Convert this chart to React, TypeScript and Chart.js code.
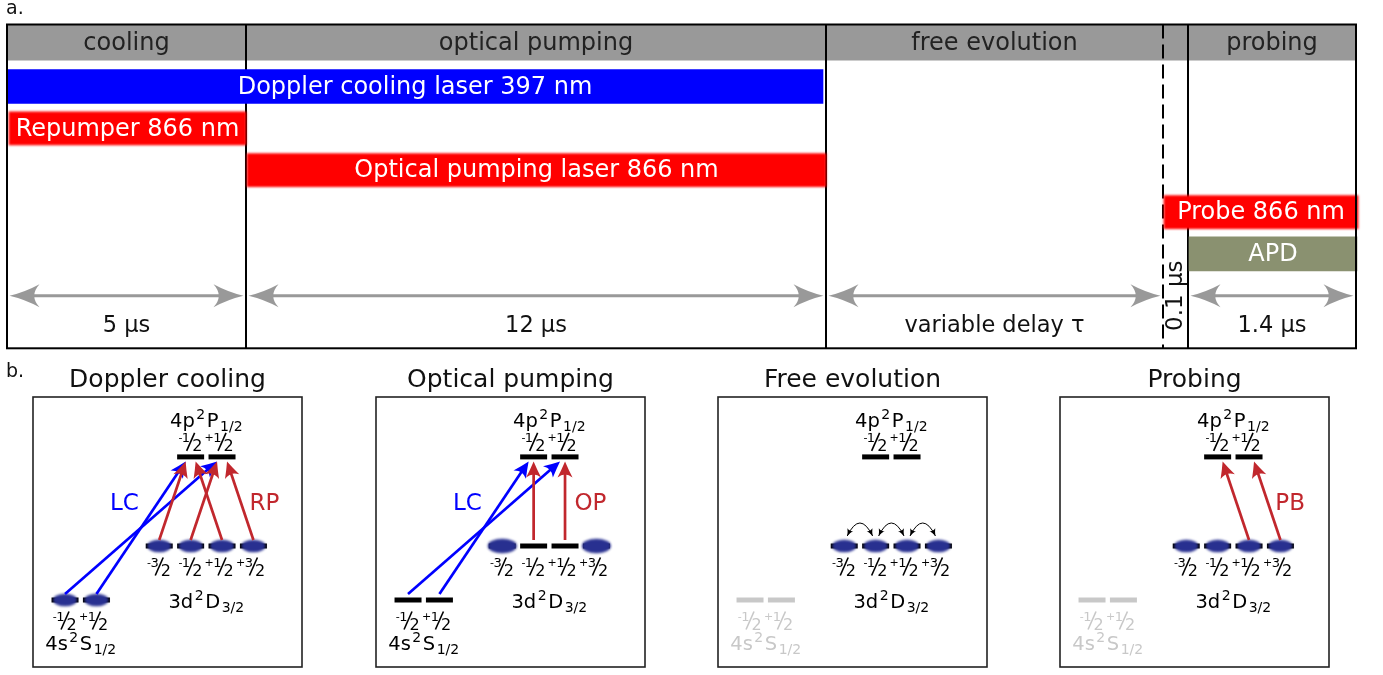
import React, { useEffect, useRef } from 'react';
import { Chart, registerables } from 'chart.js';

Chart.register(...registerables);

const FONT = '"DejaVu Sans", "Liberation Sans", sans-serif';
const GREY_LEVEL = '#c8c8c8';

// ---------- a. timing sequence (schematic time axis, not to scale) ----------
const phaseNames = ['cooling', 'optical pumping', 'free evolution', 'probing'];
const phaseStart = [0, 239, 819, 1181];
const phaseEnd = [239, 819, 1156, 1349];
const phaseDurations = ['5 μs', '12 μs', 'variable delay τ', '1.4 μs'];
const delayStart = 1156;
const delayEnd = 1181;
const delayLabel = '0.1 μs';
const sequenceEnd = 1349;

const pulseNames = ['Doppler cooling laser 397 nm', 'Repumper 866 nm', 'Optical pumping laser 866 nm', 'Probe 866 nm', 'APD'];
const pulseStart = [0, 2, 240, 1157, 1182];
const pulseEnd = [816, 239, 819, 1351, 1350];
const pulseRow = [1, 2, 3, 4, 5];
const pulseColors = ['#0000ff', '#ff0000', '#ff0000', '#ff0000', '#8a9170'];
const pulseSoftEdge = [false, true, true, true, false];

const headerRow = -0.05;
const durationArrowRow = 6;
const durationLabelRow = 6.72;

// ---------- b. level schemes of 40Ca+ (schematic energies) ----------
const panelTitles = ['Doppler cooling', 'Optical pumping', 'Free evolution', 'Probing'];
const manifoldEnergy = [0, 1, 2.65]; // S1/2, D3/2, P1/2
const manifoldOffset = [1.5, 5.5, 5.5];
const manifoldSublevels = [[-0.5, 0.5], [-1.5, -0.5, 0.5, 1.5], [-0.5, 0.5]];
const manifoldTerm = [['4s', '2', 'S', '1/2'], ['3d', '2', 'D', '3/2'], ['4p', '2', 'P', '1/2']];
// population marker per sublevel: 0 none, 1 normal, 2 enhanced
const populationS = [[1, 1], [0, 0], [0, 0], [0, 0]];
const populationD = [[1, 1, 1, 1], [2, 0, 0, 2], [1, 1, 1, 1], [1, 1, 1, 1]];
const groundActive = [true, true, false, false];

const beamNames = ['LC', 'RP', 'OP', 'PB'];
const beamColors = ['#0000ff', '#c1272d', '#c1272d', '#c1272d'];
// [fromManifold, fromM, toManifold, toM]
const beamTransitions = [
  [[0, -0.5, 2, 0.5], [0, 0.5, 2, -0.5]],
  [[1, -1.5, 2, -0.5], [1, -0.5, 2, 0.5], [1, 0.5, 2, -0.5], [1, 1.5, 2, 0.5]],
  [[1, -0.5, 2, -0.5], [1, 0.5, 2, 0.5]],
  [[1, 0.5, 2, -0.5], [1, 1.5, 2, 0.5]],
];
const beamLabelX = [2.89, 7.35, 6.81, 7.31];
const beamLabelY = [1.78, 1.78, 1.78, 1.78];
const panelBeams = [[0, 1], [0, 2], [], [3]];
const coherencePairs = [[], [], [[-1.5, -0.5], [-0.5, 0.5], [0.5, 1.5]], []];

// ---------- layout ----------
const PANEL_LEFT = [33, 376, 718, 1060];
const PANEL_W = 269;
const PANEL_TOP = 397;
const PANEL_H = 270;
const PANEL_CANVAS_TOP = 355;
const PANEL_CANVAS_H = 318;

function stealthHead(ctx: any, x: number, y: number, ang: number, len: number, hw: number, color: string, bow = 0.3) {
  ctx.save();
  ctx.translate(x, y);
  ctx.rotate(ang);
  ctx.beginPath();
  ctx.moveTo(0, 0);
  ctx.quadraticCurveTo(-len * 0.5, -hw * bow, -len, -hw);
  ctx.quadraticCurveTo(-len * 0.65, 0, -len, hw);
  ctx.quadraticCurveTo(-len * 0.5, hw * bow, 0, 0);
  ctx.closePath();
  ctx.fillStyle = color;
  ctx.fill();
  ctx.restore();
}

function drawArrow(ctx: any, x0: number, y0: number, x1: number, y1: number, color: string, lw: number, len: number, hw: number) {
  const ang = Math.atan2(y1 - y0, x1 - x0);
  const bx = x1 - Math.cos(ang) * len * 0.75;
  const by = y1 - Math.sin(ang) * len * 0.75;
  ctx.strokeStyle = color;
  ctx.lineWidth = lw;
  ctx.lineCap = 'butt';
  ctx.beginPath();
  ctx.moveTo(x0, y0);
  ctx.lineTo(bx, by);
  ctx.stroke();
  stealthHead(ctx, x1, y1, ang, len, hw, color, 0.45);
}

function drawFraction(ctx: any, cx: number, cy: number, m: number, color: string) {
  const sign = m < 0 ? '-' : '+';
  const num = String(Math.round(Math.abs(m * 2)));
  ctx.fillStyle = color;
  ctx.strokeStyle = color;
  ctx.textBaseline = 'alphabetic';
  ctx.textAlign = 'right';
  ctx.font = `13px ${FONT}`;
  const wNum = ctx.measureText(num).width;
  ctx.fillText(num, cx - 0.5, cy + 0.5);
  ctx.font = `11px ${FONT}`;
  ctx.fillText(sign, cx - 0.5 - wNum + 0.5, cy - 1);
  ctx.lineWidth = 1.6;
  ctx.beginPath();
  ctx.moveTo(cx - 4, cy + 9);
  ctx.lineTo(cx + 4, cy - 9);
  ctx.stroke();
  ctx.font = `16px ${FONT}`;
  ctx.textAlign = 'left';
  ctx.fillText('2', cx + 1.5, cy + 9);
}

function drawTerm(ctx: any, cx: number, baseline: number, parts: string[], color: string) {
  const [pre, sup, letter, sub] = parts;
  const big = `19.5px ${FONT}`;
  const small = `14px ${FONT}`;
  ctx.font = big;
  const wPre = ctx.measureText(pre).width;
  const wL = ctx.measureText(letter).width;
  ctx.font = small;
  const wSup = ctx.measureText(sup).width;
  const wSub = ctx.measureText(sub).width;
  const gap = 1.5;
  const total = wPre + wSup + wL + wSub + 3 * gap;
  let x = cx - total / 2;
  ctx.fillStyle = color;
  ctx.textAlign = 'left';
  ctx.textBaseline = 'alphabetic';
  ctx.font = big;
  ctx.fillText(pre, x, baseline);
  x += wPre + gap;
  ctx.font = small;
  ctx.fillText(sup, x, baseline - 8);
  x += wSup + gap;
  ctx.font = big;
  ctx.fillText(letter, x, baseline);
  x += wL + gap;
  ctx.font = small;
  ctx.fillText(sub, x, baseline + 4);
}

function makeBlob(rx: number, ry: number) {
  const c = document.createElement('canvas');
  const pad = 4;
  c.width = Math.ceil(2 * (rx + pad));
  c.height = Math.ceil(2 * (ry + pad));
  const g = c.getContext('2d') as CanvasRenderingContext2D;
  g.filter = 'blur(1.2px)';
  g.fillStyle = '#283090';
  g.beginPath();
  g.ellipse(c.width / 2, c.height / 2, rx, ry, 0, 0, Math.PI * 2);
  g.fill();
  return c;
}

// ---------- part a chart ----------
const sequencePlugin = {
  id: 'sequenceDeco',
  beforeDatasetDraw(chart: any, args: any) {
    const ds = chart.data.datasets[args.index];
    if (ds.label === 'soft pulses') chart.ctx.filter = 'blur(0.9px)';
  },
  afterDatasetDraw(chart: any, args: any) {
    const ds = chart.data.datasets[args.index];
    const ctx = chart.ctx;
    if (ds.label === 'soft pulses') ctx.filter = 'none';
    if (ds.label === 'phases') {
      const a = chart.chartArea;
      const xs = chart.scales.x;
      ctx.save();
      ctx.strokeStyle = '#000';
      ctx.lineWidth = 2;
      [phaseEnd[0], phaseEnd[1], delayEnd].forEach((v) => {
        const px = xs.getPixelForValue(v);
        ctx.beginPath();
        ctx.moveTo(px, a.top);
        ctx.lineTo(px, a.bottom);
        ctx.stroke();
      });
      ctx.setLineDash([14, 6]);
      const dx = xs.getPixelForValue(delayStart);
      ctx.beginPath();
      ctx.moveTo(dx, a.top);
      ctx.lineTo(dx, a.bottom);
      ctx.stroke();
      ctx.setLineDash([]);
      const ys = chart.scales.y;
      ctx.fillStyle = '#222';
      ctx.font = `24px ${FONT}`;
      ctx.textAlign = 'center';
      ctx.textBaseline = 'middle';
      phaseNames.forEach((n, i) => {
        ctx.fillText(n, xs.getPixelForValue((phaseStart[i] + phaseEnd[i]) / 2), ys.getPixelForValue(headerRow) + 1);
      });
      ctx.restore();
    }
  },
  afterDatasetsDraw(chart: any) {
    const ctx = chart.ctx;
    const a = chart.chartArea;
    const xs = chart.scales.x;
    const ys = chart.scales.y;
    ctx.save();
    // pulse labels
    ctx.fillStyle = '#fff';
    ctx.font = `24px ${FONT}`;
    ctx.textAlign = 'center';
    ctx.textBaseline = 'middle';
    pulseNames.forEach((n, i) => {
      ctx.fillText(n, xs.getPixelForValue((pulseStart[i] + pulseEnd[i]) / 2), ys.getPixelForValue(pulseRow[i]) + 1);
    });
    // duration arrows
    const ay = ys.getPixelForValue(durationArrowRow);
    phaseNames.forEach((_, i) => {
      const x0 = xs.getPixelForValue(phaseStart[i] + 2.5);
      const x1 = xs.getPixelForValue(phaseEnd[i] - 2.5);
      ctx.strokeStyle = '#999999';
      ctx.lineWidth = 3;
      ctx.beginPath();
      ctx.moveTo(x0 + 22, ay);
      ctx.lineTo(x1 - 22, ay);
      ctx.stroke();
      stealthHead(ctx, x1, ay, 0, 30, 11.5, '#999999');
      stealthHead(ctx, x0, ay, Math.PI, 30, 11.5, '#999999');
    });
    // duration labels
    ctx.fillStyle = '#111';
    ctx.font = `22.5px ${FONT}`;
    phaseDurations.forEach((d, i) => {
      ctx.fillText(d, xs.getPixelForValue((phaseStart[i] + phaseEnd[i]) / 2), ys.getPixelForValue(durationLabelRow));
    });
    // 0.1 us label (rotated)
    ctx.save();
    ctx.translate(xs.getPixelForValue((delayStart + delayEnd) / 2) + 1, ys.getPixelForValue(durationArrowRow));
    ctx.rotate(-Math.PI / 2);
    ctx.font = `23px ${FONT}`;
    ctx.fillText(delayLabel, 0, 0);
    ctx.restore();
    // frame
    ctx.strokeStyle = '#000';
    ctx.lineWidth = 2;
    ctx.strokeRect(a.left, a.top, a.right - a.left, a.bottom - a.top);
    // panel letters
    ctx.fillStyle = '#111';
    ctx.font = `19px ${FONT}`;
    ctx.textAlign = 'left';
    ctx.textBaseline = 'alphabetic';
    ctx.fillText('a.', 6, 13.5);
    ctx.fillText('b.', 6, 377);
    ctx.restore();
  },
};

function sequenceConfig(): any {
  const sharpIdx = pulseNames.map((_, i) => i).filter((i) => !pulseSoftEdge[i]);
  const softIdx = pulseNames.map((_, i) => i).filter((i) => pulseSoftEdge[i]);
  const barCommon = {
    grouped: false,
    categoryPercentage: 1,
    barPercentage: 1,
    borderWidth: 0,
    clip: false,
  };
  return {
    type: 'bar',
    data: {
      datasets: [
        {
          ...barCommon,
          label: 'sharp pulses',
          data: sharpIdx.map((i) => ({ x: [pulseStart[i], pulseEnd[i]], y: pulseRow[i] })),
          backgroundColor: sharpIdx.map((i) => pulseColors[i]),
          maxBarThickness: 34,
        },
        {
          ...barCommon,
          label: 'soft pulses',
          data: softIdx.map((i) => ({ x: [pulseStart[i], pulseEnd[i]], y: pulseRow[i] })),
          backgroundColor: softIdx.map((i) => pulseColors[i]),
          maxBarThickness: 33,
        },
        {
          ...barCommon,
          label: 'phases',
          data: [{ x: [0, sequenceEnd], y: headerRow }],
          backgroundColor: '#999999',
          maxBarThickness: 35,
        },
      ],
    },
    options: {
      indexAxis: 'y',
      animation: false,
      responsive: false,
      maintainAspectRatio: false,
      devicePixelRatio: 1,
      events: [],
      layout: { autoPadding: false, padding: { left: 7, right: 1383 - 1356, top: 24.5, bottom: 675 - 348.3 } },
      plugins: { legend: { display: false }, tooltip: { enabled: false } },
      scales: {
        x: { type: 'linear', min: 0, max: sequenceEnd, display: false, offset: false },
        y: {
          type: 'linear',
          reverse: true,
          min: 1 + (24.5 - 86.5) / 41.85,
          max: 1 + (348.3 - 86.5) / 41.85,
          display: false,
          offset: false,
          ticks: { stepSize: 1, includeBounds: false },
        },
      },
    },
    plugins: [sequencePlugin],
  };
}

// ---------- part b charts ----------
function makePanelPlugin(p: number) {
  return {
    id: 'panelDeco' + p,
    afterDatasetsDraw(chart: any) {
      const ctx = chart.ctx;
      const a = chart.chartArea;
      const xs = chart.scales.x;
      const ys = chart.scales.y;
      const X = (v: number) => xs.getPixelForValue(v);
      const Y = (v: number) => ys.getPixelForValue(v);
      ctx.save();
      // frame
      ctx.strokeStyle = '#222';
      ctx.lineWidth = 1.6;
      ctx.strokeRect(a.left, a.top, a.right - a.left, a.bottom - a.top);
      // title
      ctx.fillStyle = '#111';
      ctx.font = `25px ${FONT}`;
      ctx.textAlign = 'center';
      ctx.textBaseline = 'alphabetic';
      ctx.fillText(panelTitles[p], (a.left + a.right) / 2, a.top - 10);
      // term + sublevel labels
      manifoldTerm.forEach((term, k) => {
        const color = k === 0 && !groundActive[p] ? GREY_LEVEL : '#000';
        const yl = Y(manifoldEnergy[k]);
        const cx = X(manifoldOffset[k]);
        if (k === 2) {
          drawTerm(ctx, cx, yl - 30, term, color);
          manifoldSublevels[k].forEach((m) => drawFraction(ctx, X(manifoldOffset[k] + m), yl - 15, m, color));
        } else {
          drawTerm(ctx, cx, yl + (k === 1 ? 62 : 50), term, color);
          manifoldSublevels[k].forEach((m) => drawFraction(ctx, X(manifoldOffset[k] + m), yl + 20.5, m, color));
        }
      });
      // coherence arcs
      const yD = Y(manifoldEnergy[1]);
      coherencePairs[p].forEach(([m1, m2]) => {
        const xa = X(manifoldOffset[1] + m1) + 3;
        const xb = X(manifoldOffset[1] + m2) - 3;
        const ye = yD - 10;
        const xc = (xa + xb) / 2;
        const yc = yD - 36;
        ctx.strokeStyle = '#000';
        ctx.lineWidth = 1;
        ctx.beginPath();
        ctx.moveTo(xa, ye);
        ctx.quadraticCurveTo(xc, yc, xb, ye);
        ctx.stroke();
        stealthHead(ctx, xa, ye, Math.atan2(ye - yc, xa - xc), 7, 3.2, '#000');
        stealthHead(ctx, xb, ye, Math.atan2(ye - yc, xb - xc), 7, 3.2, '#000');
      });
      // laser transitions
      panelBeams[p].forEach((b) => {
        const color = beamColors[b];
        beamTransitions[b].forEach(([fk, fm, tk, tm]) => {
          const fx = manifoldOffset[fk] + fm;
          const tx = manifoldOffset[tk] + tm;
          const off = tx > fx ? -5 : tx < fx ? 5 : 0;
          drawArrow(ctx, X(fx), Y(manifoldEnergy[fk]) - 6, X(tx) + off, Y(manifoldEnergy[tk]) + 4.5, color, 2.7, 16, 7.5);
        });
        ctx.fillStyle = color;
        ctx.font = `23px ${FONT}`;
        ctx.textAlign = 'center';
        ctx.textBaseline = 'middle';
        ctx.fillText(beamNames[b], X(beamLabelX[b]), Y(beamLabelY[b]));
      });
      ctx.restore();
    },
  };
}

function panelConfig(p: number, blobs: any[]): any {
  const popPoints: any[] = [];
  const popStyles: any[] = [];
  [populationS[p], populationD[p]].forEach((pops, k) => {
    pops.forEach((v, j) => {
      if (v > 0) {
        popPoints.push({ x: manifoldOffset[k] + manifoldSublevels[k][j], y: manifoldEnergy[k] });
        popStyles.push(blobs[v]);
      }
    });
  });
  const levelSets = manifoldSublevels.map((subs, k) => ({
    label: ['S1/2', 'D3/2', 'P1/2'][k],
    data: subs.map((m) => ({ x: manifoldOffset[k] + m, y: manifoldEnergy[k] })),
    pointStyle: 'line',
    pointRadius: 13.5,
    pointBorderWidth: 5,
    pointBorderColor: k === 0 && !groundActive[p] ? GREY_LEVEL : '#000',
    pointBackgroundColor: 'rgba(0,0,0,0)',
  }));
  const xPx = 31.4;
  const xMin = -0.02;
  const yPx = 54;
  return {
    type: 'scatter',
    data: {
      datasets: [
        {
          label: 'population',
          data: popPoints,
          pointStyle: (c: any) => popStyles[c.dataIndex],
          pointRadius: 10,
        },
        ...levelSets,
      ],
    },
    options: {
      animation: false,
      responsive: false,
      maintainAspectRatio: false,
      devicePixelRatio: 1,
      events: [],
      layout: {
        autoPadding: false,
        padding: { left: 4, right: 4, top: PANEL_TOP - PANEL_CANVAS_TOP, bottom: PANEL_CANVAS_H - (PANEL_TOP - PANEL_CANVAS_TOP) - PANEL_H },
      },
      plugins: { legend: { display: false }, tooltip: { enabled: false } },
      scales: {
        x: { type: 'linear', min: xMin, max: xMin + PANEL_W / xPx, display: false },
        y: { type: 'linear', min: -(667 - 600) / yPx, max: (600 - 397) / yPx, display: false },
      },
    },
    plugins: [makePanelPlugin(p)],
  };
}

export default function App() {
  const seqRef = useRef<HTMLCanvasElement>(null);
  const r0 = useRef<HTMLCanvasElement>(null);
  const r1 = useRef<HTMLCanvasElement>(null);
  const r2 = useRef<HTMLCanvasElement>(null);
  const r3 = useRef<HTMLCanvasElement>(null);
  const panelRefs = [r0, r1, r2, r3];

  useEffect(() => {
    const charts: Chart[] = [];
    const blobs = [null, makeBlob(12, 6.3), makeBlob(14.5, 7.3)];
    if (seqRef.current) charts.push(new Chart(seqRef.current, sequenceConfig()));
    panelRefs.forEach((r, i) => {
      if (r.current) charts.push(new Chart(r.current, panelConfig(i, blobs)));
    });
    return () => charts.forEach((c) => c.destroy());
  }, []);

  return (
    <div style={{ position: 'fixed', left: 0, top: 0, width: 1383, height: 675, background: '#fff', overflow: 'hidden' }}>
      <canvas ref={seqRef} width={1383} height={675} style={{ position: 'absolute', left: 0, top: 0 }} />
      {PANEL_LEFT.map((l, i) => (
        <canvas
          key={i}
          ref={panelRefs[i]}
          width={PANEL_W + 8}
          height={PANEL_CANVAS_H}
          style={{ position: 'absolute', left: l - 4, top: PANEL_CANVAS_TOP }}
        />
      ))}
    </div>
  );
}
